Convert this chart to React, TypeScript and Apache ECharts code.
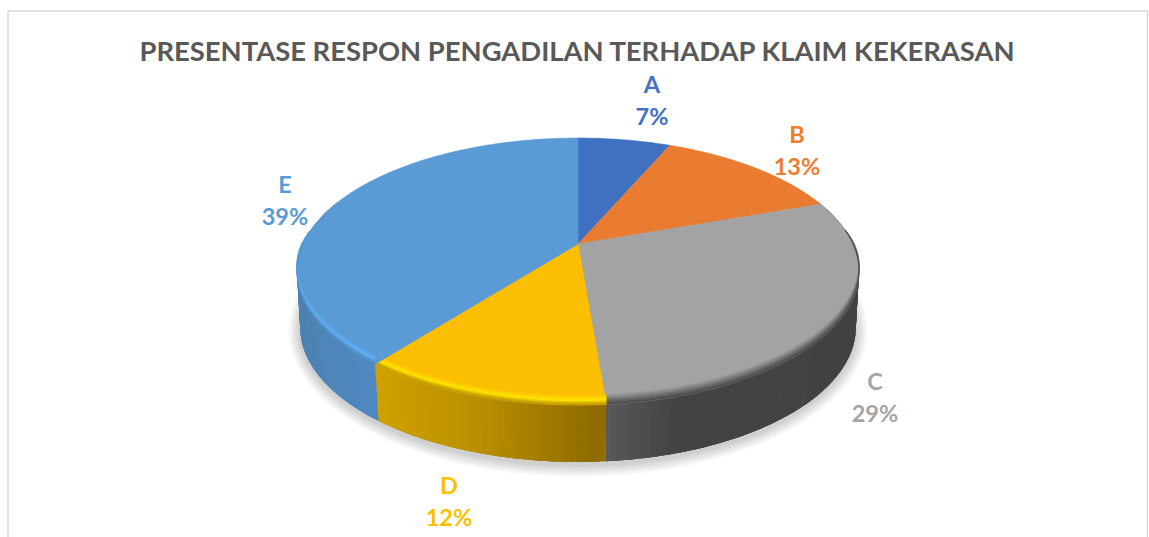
import React, { useEffect, useRef } from "react";
import * as echarts from "echarts";

const titleText = "PRESENTASE RESPON PENGADILAN TERHADAP KLAIM KEKERASAN";
const categories = ["A", "B", "C", "D", "E"];
const shares = [6.5, 13.1, 29.1, 11.9, 39.4];

const topColors = ["#4070c0", "#e97c30", "#a3a3a3", "#fcbe00", "#5a9ad5"];
const labelColors = ["#4472c4", "#ed7d31", "#a5a5a5", "#ffc000", "#5b9bd5"];
const bevelColors = ["#4070c0", "#e97c30", "#6e6e6e", "#ffe600", "#5fb2f8"];
const wallStops = [
  ["#2f5597", "#2f5597"],
  ["#a5571f", "#a5571f"],
  ["#5c5c5c", "#434343", "#434343", "#424242"],
  ["#d2a200", "#b98f00", "#8f6b00"],
  ["#4d80ae", "#4f86ba", "#4f88c0"],
];
const labelAnchors = [
  [652, 84],
  [797, 134],
  [875, 381],
  [449, 485],
  [285, 184],
];

const FONT = "Lato, 'Open Sans', sans-serif";
const CX = 578;
const APEX_Y = 244;
const HALF_W = 275;
const HALF_H = 127.8;
const PERSP = 0.206;
const DEPTH = 57;
const BOTTOM_SCALE = 0.99;
const BEVEL = 10;
const BEVEL_STEPS = 8;
const SHADOW_STEPS = 12;

const rad = (d: number) => (d * Math.PI) / 180;
function project(deg: number): [number, number] {
  const u = Math.sin(rad(deg));
  const v = -Math.cos(rad(deg));
  const d = 1 - PERSP * v;
  return [CX + (HALF_W * u) / d, APEX_Y + (HALF_H * v) / d];
}
function bottom(deg: number): [number, number] {
  const [x, y] = project(deg);
  const front = Math.max(0, -Math.cos(rad(deg)));
  const scale = BOTTOM_SCALE - 0.008 * front;
  return [CX + (x - CX) * scale, y + DEPTH];
}
function hexMix(a: string, b: string, t: number) {
  const pa = [1, 3, 5].map((i) => parseInt(a.slice(i, i + 2), 16));
  const pb = [1, 3, 5].map((i) => parseInt(b.slice(i, i + 2), 16));
  return `rgb(${pa.map((c, i) => Math.round(c + (pb[i] - c) * t)).join(",")})`;
}
function gradientAt(stops: string[], t: number) {
  const p = Math.max(0, Math.min(1, t)) * (stops.length - 1);
  const n = Math.min(stops.length - 2, Math.floor(p));
  return hexMix(stops[n], stops[n + 1], p - n);
}
function taper(deg: number) {
  const v = -Math.cos(rad(deg));
  return Math.max(0, Math.min(1, (v + 0.12) / 0.42));
}
function degs(a: number, b: number) {
  const out: number[] = [];
  for (let d = a; d < b; d += 1) out.push(d);
  out.push(b);
  return out;
}

const total = shares.reduce((s, v) => s + v, 0);

function renderItem(params: any, api: any) {
  const i = params.dataIndex;
  const value = api.value(1);
  let before = 0;
  for (let k = 0; k < i; k++) before += shares[k];
  const a0 = (before / total) * 360;
  const a1 = a0 + (value / total) * 360;
  const arc = degs(a0, a1);
  const children: any[] = [];

  if (i === 0) {
    const outline = degs(0, 360).map(bottom);
    const cy = APEX_Y + DEPTH + 25;
    for (let s = SHADOW_STEPS; s >= 1; s--) {
      children.push({
        type: "polygon",
        silent: true,
        shape: {
          points: outline.map(([x, y]) => [
            CX + (x - CX) * (1 + s / 280),
            cy + (y - cy) * (1 + s / 135) + 3,
          ]),
        },
        style: { fill: "rgba(0,0,0,0.016)" },
      });
    }
  }

  const visible = arc.filter((d) => -Math.cos(rad(d)) > -0.36);
  if (visible.length > 1) {
    const stops = wallStops[i];
    const xs = visible.map((d) => project(d)[0]);
    const xMin = Math.min(...xs);
    const xMax = Math.max(...xs);
    // Painted from the far end of the arc backwards, each strip reaching over the next
    // so that no anti-aliased seam shows between neighbours.
    for (let q = visible.length - 2; q >= 0; q--) {
      const far = Math.min(q + 3, visible.length - 1);
      const p0 = project(visible[q]);
      const p1 = project(visible[q + 1]);
      const run = visible.slice(q, far + 1);
      const t = ((p0[0] + p1[0]) / 2 - xMin) / (xMax - xMin || 1);
      const color = gradientAt(stops, t);
      children.push({
        type: "polygon",
        silent: true,
        shape: {
          points: [...run.map(project), ...run.slice().reverse().map(bottom)],
        },
        style: { fill: color },
      });
    }
  }

  children.push({
    type: "polygon",
    silent: true,
    shape: { points: [[CX, APEX_Y], ...arc.map(project)] },
    style: { fill: topColors[i], stroke: topColors[i], lineWidth: 0.6 },
  });

  const lastWall = wallStops[i][Math.floor((wallStops[i].length - 1) / 2)];
  const beveled = arc.filter((d) => taper(d) > 0);
  if (beveled.length > 1) {
    for (let s = 0; s < BEVEL_STEPS; s++) {
      const t0 = s / BEVEL_STEPS;
      const t1 = (s + 1) / BEVEL_STEPS;
      const t = (t0 + t1) / 2;
      const color =
        t < 0.55
          ? hexMix(topColors[i], bevelColors[i], t / 0.55)
          : hexMix(bevelColors[i], lastWall, (t - 0.55) / 0.45);
      const band = (f: number) => (d: number) => {
        const [x, y] = project(d);
        return [x, y - BEVEL * taper(d) * (1 - f)];
      };
      children.push({
        type: "polygon",
        silent: true,
        shape: {
          points: [...beveled.map(band(t0)), ...beveled.slice().reverse().map(band(t1))],
        },
        style: { fill: color, stroke: color, lineWidth: 0.4 },
      });
    }
  }

  const [lx, ly] = labelAnchors[i];
  children.push({
    type: "text",
    silent: true,
    x: lx,
    y: ly,
    style: {
      text: api.value(0),
      fill: labelColors[i],
      font: `bold 23.5px ${FONT}`,
      align: "center",
      verticalAlign: "middle",
    },
  });
  children.push({
    type: "text",
    silent: true,
    x: lx,
    y: ly + 32,
    style: {
      text: `${Math.round(value)}%`,
      fill: labelColors[i],
      font: `bold 23.5px ${FONT}`,
      align: "center",
      verticalAlign: "middle",
    },
  });
  return { type: "group", children };
}

export default function App() {
  const ref = useRef<HTMLDivElement>(null);
  useEffect(() => {
    document.body.style.margin = "0";
    const chart = echarts.init(ref.current!, undefined, { renderer: "svg" });
    chart.setOption({
      animation: false,
      backgroundColor: "#ffffff",
      title: {
        text: titleText,
        left: 572,
        top: 32,
        textAlign: "center",
        textStyle: {
          color: "#595959",
          fontFamily: FONT,
          fontWeight: "bold",
          fontSize: 27.4,
        },
      },
      graphic: [
        {
          type: "polyline",
          silent: true,
          shape: { points: [[8, 537], [8, 11], [1147.5, 11], [1147.5, 537]] },
          style: { fill: "none", stroke: "#d9d9d9", lineWidth: 1.5 },
        },
      ],
      series: [
        {
          type: "custom",
          coordinateSystem: "none",
          renderItem,
          data: categories.map((c, i) => [c, shares[i]]),
        },
      ],
    });
    return () => chart.dispose();
  }, []);
  return <div ref={ref} style={{ width: 1149, height: 537 }} />;
}
